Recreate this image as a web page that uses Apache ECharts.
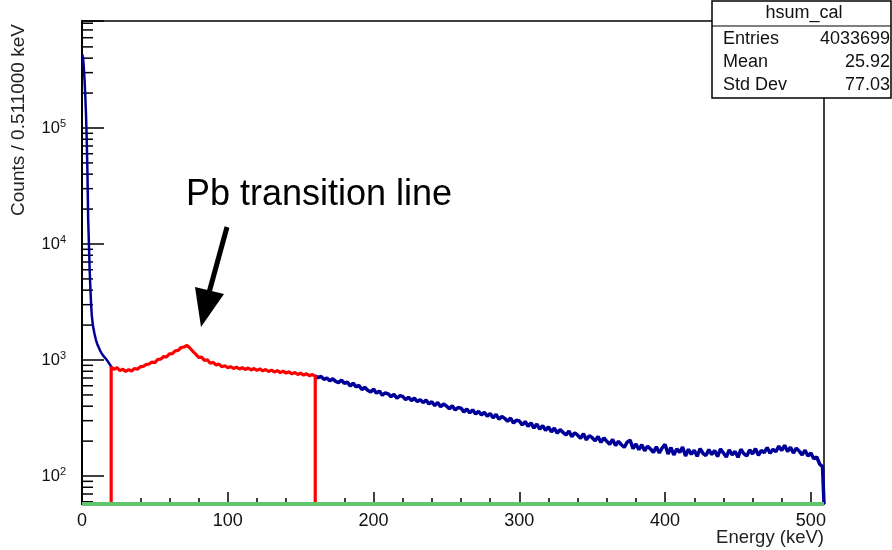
<!DOCTYPE html>
<html>
<head>
<meta charset="utf-8">
<script src="https://cdn.jsdelivr.net/npm/echarts@6/dist/echarts.min.js"></script>
<style>
  html, body { margin: 0; padding: 0; background: #fff; }
  #chart { width: 892px; height: 550px; }
</style>
</head>
<body>
<div id="chart"></div>
<script>
var FONT = '"Liberation Sans", Arial, Helvetica, sans-serif';

// axis ranges (keV, counts)
var X_MAX = 509;
var Y_MIN = 57.4;
var Y_MAX = 836000;
var BIN = 2;

// 0 - 20 keV, the low energy spike (blue)
var lowEnergy = [0.25, 0.75, 1.25, 1.75, 2.25, 2.75, 3.25, 3.75, 4.25, 4.75, 5.25, 5.75, 6.25, 6.75,
  7.5, 8.5, 9.5, 10.5, 11.5, 12.5, 13.5, 14.5, 15.5, 16.5, 17.5, 18.5, 19.5];
var lowCounts = [430000, 400000, 330000, 260000, 190000, 130000, 80000, 40000, 16000, 10000, 6000, 4200, 3000, 2400,
  1980, 1700, 1500, 1370, 1280, 1200, 1140, 1090, 1050, 1020, 980, 940, 900];

// 20 - 160 keV, selected range (red), one value every 2 keV
var RED_FROM = 20;
var redCounts = [868, 831, 858, 809, 834, 796, 827, 805, 845, 832,
  874, 880, 912, 925, 958, 951, 1012, 1018, 1071, 1066,
  1130, 1137, 1199, 1212, 1282, 1296, 1334, 1270, 1189, 1125,
  1052, 1058, 991, 1003, 938, 955, 906, 921, 876, 893,
  858, 877, 845, 869, 836, 860, 828, 853, 820, 845,
  813, 838, 805, 829, 797, 818, 788, 810, 779, 801,
  770, 792, 760, 781, 751, 771, 742, 760, 733, 749, 726];

// 160 - 508 keV (blue), one value every 2 keV
var HIGH_FROM = 160;
var highCounts = [726, 705, 722, 681, 700, 662, 690, 655, 639, 672,
  628, 645, 598, 631, 588, 604, 556, 581, 549, 530, 561,
  518, 540, 497, 522, 511, 483, 505, 470, 492, 486,
  455, 478, 447, 470, 438, 456, 429, 452, 418, 437,
  404, 431, 396, 417, 402, 380, 404, 371, 389, 385,
  356, 378, 350, 372, 342, 361, 336, 355, 327, 346,
  318, 339, 309, 326, 314, 297, 316, 286, 303, 298,
  276, 295, 268, 287, 259, 281, 253, 272, 248, 265,
  240, 259, 234, 251, 238, 226, 244, 218, 236, 225,
  212, 231, 205, 223, 214, 201, 219, 195, 213, 199,
  188, 207, 183, 199, 186, 177, 196, 204, 172, 189,
  169, 186, 165, 181, 171, 160, 179, 158, 175, 187,
  155, 176, 152, 171, 160, 178, 149, 170, 154, 167,
  148, 172, 157, 150, 169, 153, 166, 147, 171, 158,
  146, 168, 152, 163, 145, 170, 156, 149, 168, 155,
  172, 151, 166, 159, 176, 157, 170, 162, 181, 166,
  184, 163, 177, 158, 174, 164, 152, 167, 149, 158,
  141, 146, 127, 120];

// stats box
var statsTitle = "hsum_cal";
var statsNames = ["Entries", "Mean", "Std Dev"];
var statsValues = ["4033699", "25.92", "77.03"];

// ROOT style minor ticks on the log axis: 2..9 x 10^n
var minorTickValues = [];
for (var n = 1; n <= 5; n++) {
  for (var k = 2; k <= 9; k++) {
    var v = k * Math.pow(10, n);
    if (v > Y_MIN && v < Y_MAX) minorTickValues.push(v);
  }
}

var blueLowData = lowEnergy.map(function (e, i) { return [e, lowCounts[i]]; });
blueLowData.push([RED_FROM, redCounts[0]]);

var redData = [[RED_FROM, Y_MIN]];
for (var i = 0; i < redCounts.length; i++) {
  redData.push([RED_FROM + BIN * i, redCounts[i]]);
}
redData.push([RED_FROM + BIN * (redCounts.length - 1), Y_MIN]);

var blueHighData = highCounts.map(function (c, i) { return [HIGH_FROM + BIN * i, c]; });
blueHighData.push([X_MAX, highCounts[highCounts.length - 1]]);
blueHighData.push([X_MAX, Y_MIN]);

function isPow10(v) {
  var l = Math.log10(v);
  return Math.abs(l - Math.round(l)) < 1e-6;
}

var myChart = echarts.init(document.getElementById("chart"));

var statsGraphics = [
  {
    type: "rect", z: 100,
    shape: { x: 712, y: 1, width: 179, height: 97 },
    style: { fill: "#fff", stroke: "#000", lineWidth: 1.5 }
  },
  {
    type: "line", z: 101,
    shape: { x1: 712, y1: 26, x2: 891, y2: 26 },
    style: { stroke: "#000", lineWidth: 1.2 }
  },
  {
    type: "text", z: 101, x: 804, y: 13,
    style: { text: statsTitle, font: "18px " + FONT, fill: "#111", align: "center", verticalAlign: "middle" }
  }
];
for (var r = 0; r < statsNames.length; r++) {
  statsGraphics.push({
    type: "text", z: 101, x: 723, y: 39 + r * 23,
    style: { text: statsNames[r], font: "18px " + FONT, fill: "#111", align: "left", verticalAlign: "middle" }
  });
  statsGraphics.push({
    type: "text", z: 101, x: 890, y: 39 + r * 23,
    style: { text: statsValues[r], font: "18px " + FONT, fill: "#111", align: "right", verticalAlign: "middle" }
  });
}

var option = {
  animation: false,
  backgroundColor: "#fff",
  grid: {
    left: 82, right: 68, top: 21, bottom: 46,
    show: true, borderColor: "#000", borderWidth: 1.5
  },
  xAxis: {
    type: "value",
    min: 0, max: X_MAX, interval: 100,
    axisLine: { onZero: false, lineStyle: { color: "#000", width: 1.5 } },
    axisTick: { inside: true, length: 12, lineStyle: { color: "#000", width: 1.5 } },
    minorTick: { show: true, splitNumber: 5, length: 6, lineStyle: { color: "#000", width: 1.5 } },
    splitLine: { show: false },
    axisLabel: {
      margin: 8, fontSize: 18, fontFamily: FONT, color: "#111",
      formatter: function (v) { return v % 100 === 0 ? String(v) : ""; }
    }
  },
  yAxis: {
    type: "log", logBase: 10,
    min: Y_MIN, max: Y_MAX,
    axisLine: { onZero: false, lineStyle: { color: "#000", width: 2 } },
    axisTick: { inside: true, length: 22, lineStyle: { color: "#000", width: 1.5 } },
    splitLine: { show: false },
    axisLabel: {
      margin: 16,
      formatter: function (v) {
        if (!isPow10(v)) return "";
        return "{b|10}{s|" + Math.round(Math.log10(v)) + "}";
      },
      rich: {
        b: { fontSize: 16.5, fontFamily: FONT, color: "#111", lineHeight: 20 },
        s: { fontSize: 11, fontFamily: FONT, color: "#111", verticalAlign: "top", lineHeight: 12 }
      }
    }
  },
  graphic: [
    {
      type: "text", x: 19, y: 120, rotation: Math.PI / 2,
      style: { text: "Counts / 0.511000 keV", font: "19px " + FONT, fill: "#222", align: "center", verticalAlign: "middle" }
    },
    {
      type: "text", x: 824, y: 538,
      style: { text: "Energy (keV)", font: "18.5px " + FONT, fill: "#222", align: "right", verticalAlign: "middle" }
    },
    {
      type: "text", x: 319, y: 195,
      style: { text: "Pb transition line", font: "36px " + FONT, fill: "#000", align: "center", verticalAlign: "middle" }
    },
    {
      type: "line",
      shape: { x1: 227, y1: 227, x2: 207, y2: 300 },
      style: { stroke: "#000", lineWidth: 5 }
    },
    {
      type: "polygon",
      shape: { points: [[195, 287], [224, 294], [201, 327]] },
      style: { fill: "#000" }
    }
  ].concat(statsGraphics),
  series: [
    {
      name: "blueLow", type: "line", data: blueLowData, z: 3,
      showSymbol: false, symbol: "none",
      lineStyle: { color: "#000099", width: 2.5 }
    },
    {
      name: "blueHigh", type: "line", data: blueHighData, z: 3,
      showSymbol: false, symbol: "none",
      lineStyle: { color: "#000099", width: 3.5 }
    },
    {
      name: "red", type: "line", data: redData, z: 4,
      showSymbol: false, symbol: "none",
      lineStyle: { color: "#ff0000", width: 3.2 }
    },
    {
      name: "green", type: "line", data: [[0, Y_MIN], [X_MAX, Y_MIN]], z: 5,
      clip: false, showSymbol: false, symbol: "none",
      lineStyle: { color: "#62c46e", width: 4 }
    },
    {
      name: "minorTicks", type: "custom", z: 1, silent: true,
      data: minorTickValues.map(function (v) { return [0, v]; }),
      renderItem: function (params, api) {
        var p = api.coord([0, api.value(1)]);
        return {
          type: "line",
          shape: { x1: p[0], y1: p[1], x2: p[0] + 11, y2: p[1] },
          style: { stroke: "#000", lineWidth: 1.5 }
        };
      }
    }
  ]
};

myChart.setOption(option);
</script>
</body>
</html>
